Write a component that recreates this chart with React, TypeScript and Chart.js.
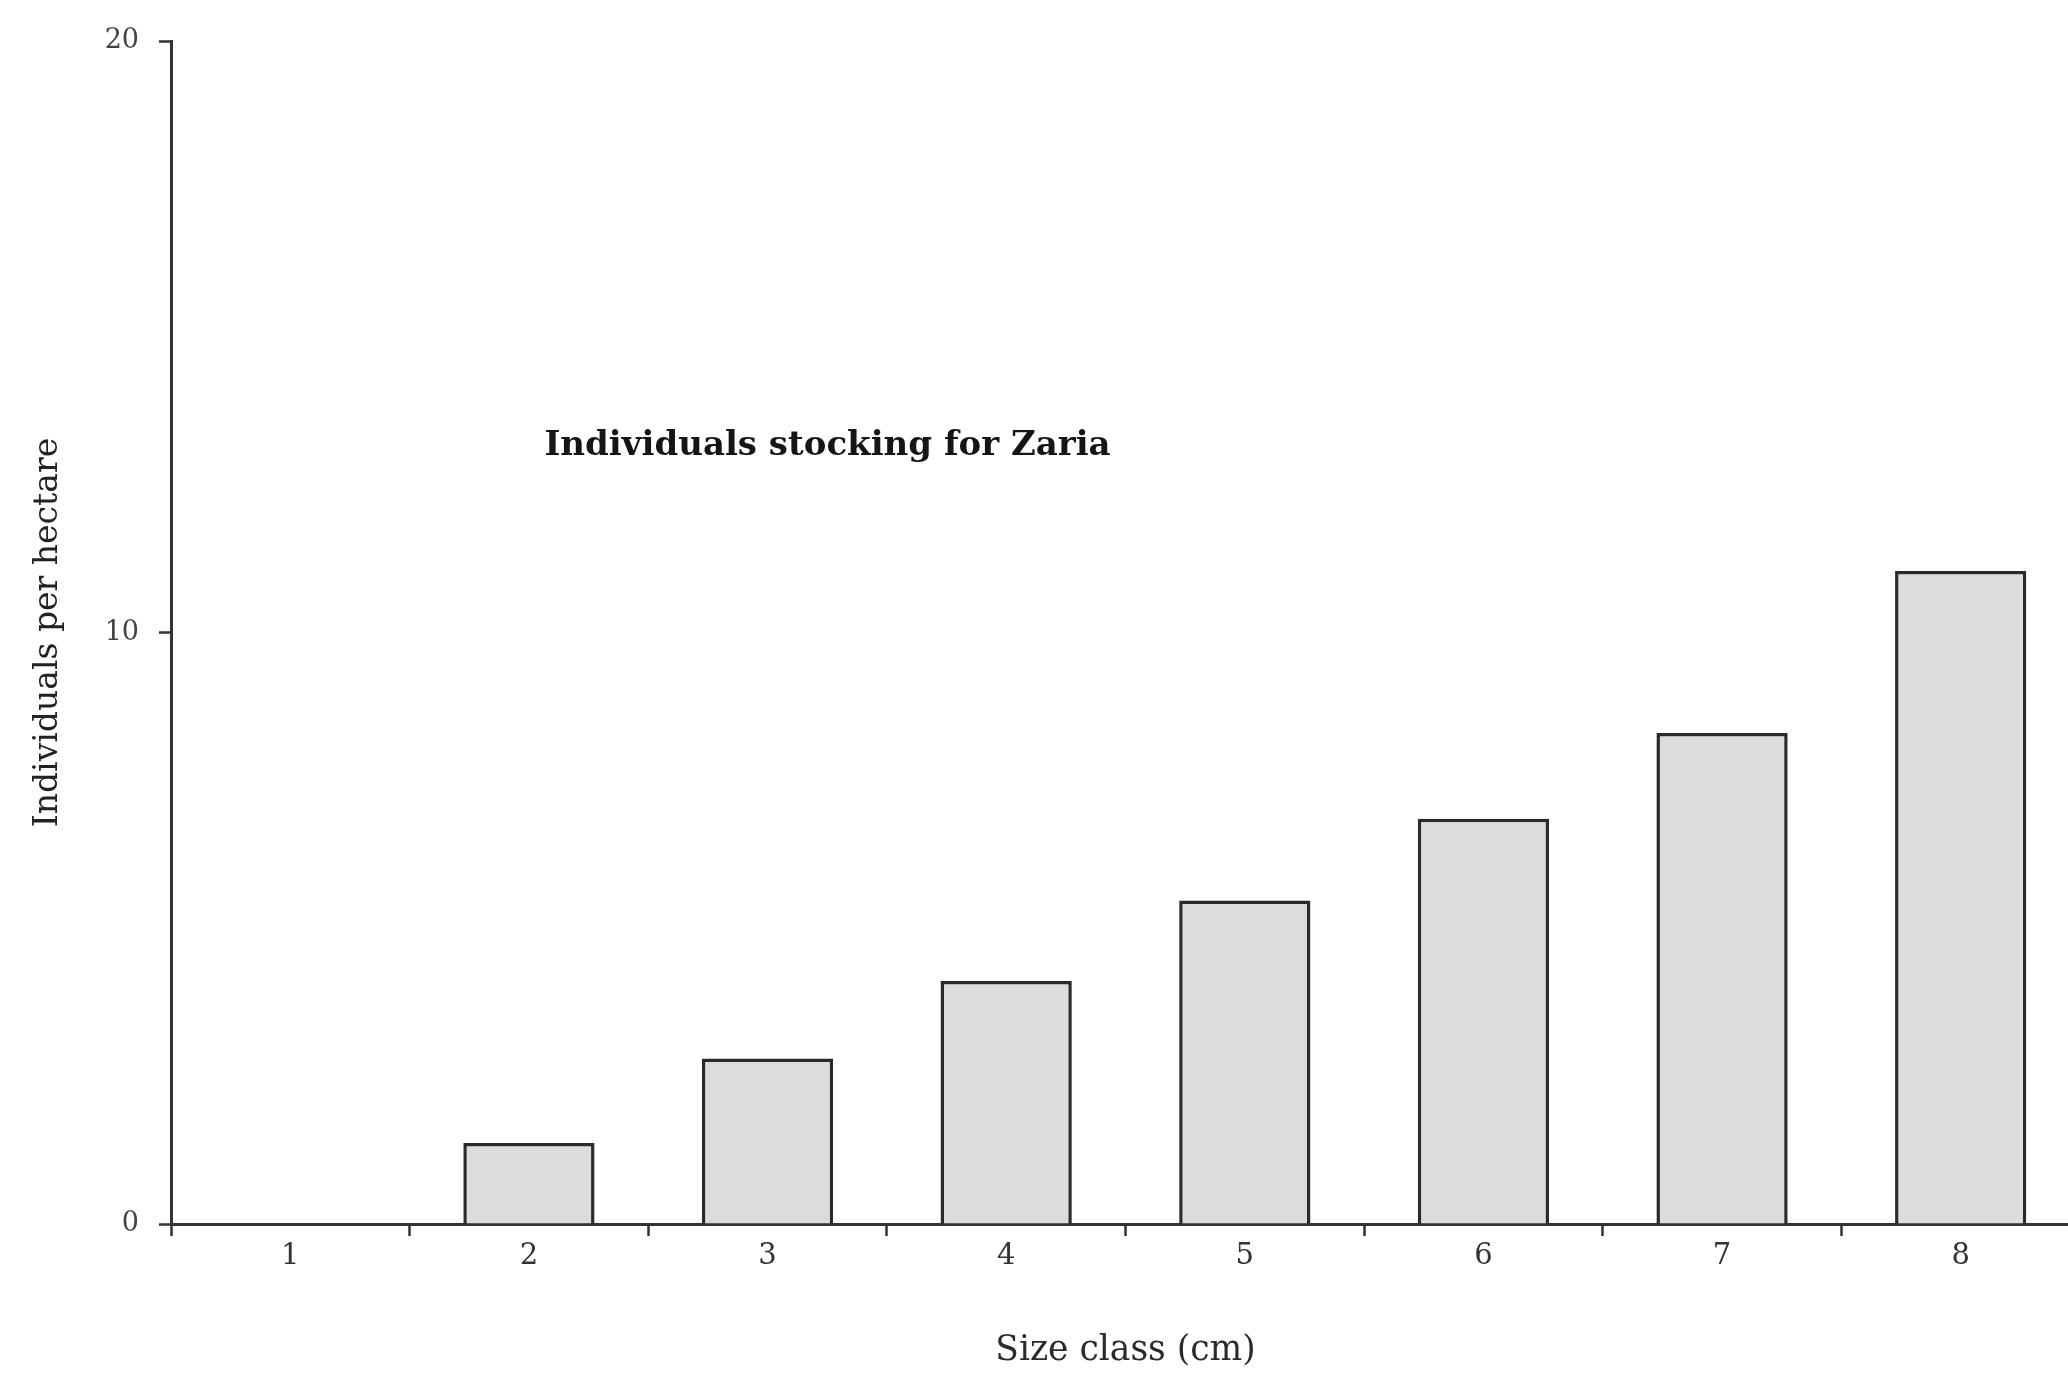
import React, { useEffect, useRef } from 'react';
import { Chart, registerables } from 'chart.js';

Chart.register(...registerables);

// ---- data ----
const categories = ['1', '2', '3', '4', '5', '6', '7', '8'];
const individualsPerHectare = [0, 1.37, 2.8, 4.11, 5.47, 6.85, 8.3, 11.04];
const yTickValues = [0, 10, 20];
const chartTitle = 'Individuals stocking for Zaria';
const xAxisTitle = 'Size class (cm)';
const yAxisTitle = 'Individuals per hectare';
// anchor of the in-plot title, in data units (category index, value)
const titleAnchor = { x: 1.065, y: 13.15 };

const FONT = '"DejaVu Serif", "Liberation Serif", serif';
const AXIS_COLOR = '#333333';
const CANVAS_W = 2080;
const CANVAS_H = 1387;

const inlineTitlePlugin = {
  id: 'inlineTitle',
  afterDatasetsDraw(chart: any) {
    const { ctx, scales } = chart;
    const x = scales.x;
    const y = scales.y;
    ctx.save();
    ctx.font = `bold 34px ${FONT}`;
    ctx.fillStyle = '#151515';
    ctx.textAlign = 'left';
    ctx.textBaseline = 'middle';
    ctx.fillText(chartTitle, x.getPixelForValue(titleAnchor.x), y.getPixelForValue(titleAnchor.y));
    ctx.restore();
  },
};

export default function App() {
  const canvasRef = useRef<HTMLCanvasElement | null>(null);

  useEffect(() => {
    document.body.style.margin = '0';
    document.body.style.background = '#ffffff';
    document.body.style.overflow = 'hidden';
    const canvas = canvasRef.current;
    if (!canvas) return;
    const chart = new Chart(canvas, {
      type: 'bar',
      data: {
        labels: categories,
        datasets: [
          {
            data: individualsPerHectare,
            backgroundColor: '#dcdcdc',
            borderColor: '#2a2a2a',
            borderWidth: 3.5,
            borderSkipped: 'start',
            barPercentage: 0.55,
            categoryPercentage: 1,
          },
        ],
      },
      options: {
        responsive: false,
        animation: false,
        devicePixelRatio: 1,
        layout: { padding: { top: 41, left: 0, right: 0, bottom: 0 } },
        plugins: {
          legend: { display: false },
          tooltip: { enabled: false },
          title: { display: false },
        },
        scales: {
          x: {
            type: 'category',
            offset: true,
            grid: {
              offset: true,
              display: true,
              drawOnChartArea: false,
              drawTicks: true,
              tickLength: 12,
              tickColor: AXIS_COLOR,
              tickWidth: 2.5,
            },
            border: { display: true, color: AXIS_COLOR, width: 3 },
            ticks: {
              color: '#333333',
              font: { family: FONT, size: 29 },
              padding: 3,
              maxRotation: 0,
            },
            title: {
              display: true,
              text: xAxisTitle,
              color: '#2a2a2a',
              font: { family: FONT, size: 34.5 },
              padding: { top: 0, bottom: 15 },
            },
            afterFit(scale: any) {
              scale.height = 163;
            },
          },
          y: {
            type: 'linear',
            min: 0,
            max: 20,
            grid: {
              display: true,
              drawOnChartArea: false,
              drawTicks: true,
              tickLength: 12,
              tickColor: AXIS_COLOR,
              tickWidth: 2.5,
            },
            border: { display: true, color: AXIS_COLOR, width: 3 },
            ticks: {
              color: '#444444',
              font: { family: FONT, size: 27 },
              padding: 20,
            },
            afterBuildTicks(scale: any) {
              scale.ticks = yTickValues.map((v) => ({ value: v }));
            },
            title: {
              display: true,
              text: yAxisTitle,
              color: '#222222',
              font: { family: FONT, size: 33 },
              padding: { top: 29, bottom: 0 },
            },
            afterFit(scale: any) {
              scale.width = 171;
            },
          },
        },
      },
      plugins: [inlineTitlePlugin],
    });
    return () => chart.destroy();
  }, []);

  return (
    <div style={{ width: 2068, height: CANVAS_H, overflow: 'hidden' }}>
      <canvas ref={canvasRef} width={CANVAS_W} height={CANVAS_H} style={{ display: 'block' }} />
    </div>
  );
}
